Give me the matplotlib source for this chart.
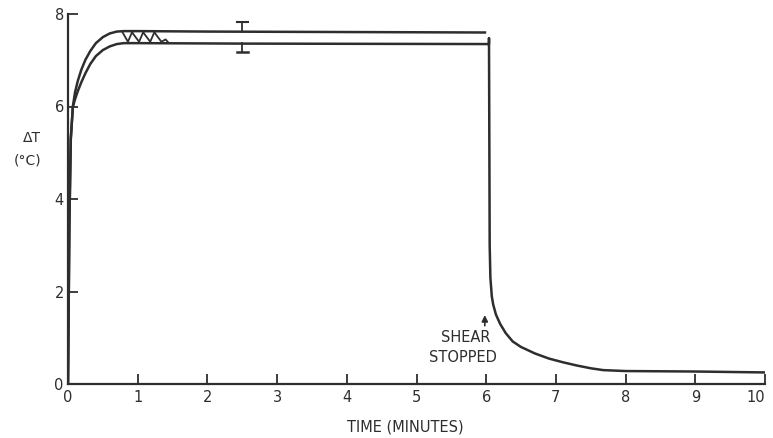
import matplotlib
matplotlib.use("Agg")
import matplotlib.pyplot as plt

# Upper curve (rise and plateau, ends at shear stop)
upper_t = [0, 0.02, 0.04, 0.07, 0.10, 0.14, 0.19, 0.25, 0.32, 0.40, 0.50, 0.60, 0.70, 0.80, 1.0, 2.0, 4.0, 6.0]
upper_v = [0, 3.5, 5.3, 6.0, 6.30, 6.55, 6.79, 7.01, 7.20, 7.37, 7.50, 7.58, 7.62, 7.63, 7.63, 7.62, 7.61, 7.60]

# Lower curve (rise, plateau, drop after shear stopped, decay)
lower_t = [0, 0.02, 0.04, 0.07, 0.10, 0.14, 0.19, 0.25, 0.32, 0.40, 0.50, 0.60, 0.70, 0.80, 1.0, 2.5, 6.04,
           6.04, 6.05, 6.06, 6.08, 6.10, 6.14, 6.20, 6.28, 6.38, 6.50, 6.70, 6.90,
           7.10, 7.30, 7.50, 7.68, 8.0, 9.0, 10.0]
lower_v = [0, 3.5, 5.3, 6.0, 6.15, 6.33, 6.52, 6.72, 6.92, 7.09, 7.22, 7.30, 7.35, 7.37, 7.37, 7.36, 7.35,
           7.48, 3.0, 2.3, 1.9, 1.72, 1.50, 1.30, 1.10, 0.92, 0.80, 0.66, 0.55,
           0.47, 0.40, 0.34, 0.30, 0.28, 0.27, 0.25]

# Oscillation trace between the curves
wave_t = [0.78, 0.86, 0.92, 0.94, 1.02, 1.08, 1.10, 1.18, 1.24, 1.26, 1.34, 1.40, 1.43]
wave_v = [7.61, 7.40, 7.61, 7.56, 7.40, 7.61, 7.56, 7.40, 7.61, 7.56, 7.40, 7.45, 7.40]

# Error bars at t = 2.5
err_t = 2.5
err_upper = (7.63, 7.82)
err_lower = (7.37, 7.18)

x_ticks = [0, 1, 2, 3, 4, 5, 6, 7, 8, 9, 10]
x_labels = ["0", "1", "2", "3", "4", "5", "6", "7", "8", "9", "10"]
y_ticks = [0, 2, 4, 6, 8]
y_labels = ["0", "2", "4", "6", "8"]

ink = "#2e2e2e"
plt.rcParams['font.family'] = ['DejaVu Sans']

fig = plt.figure(figsize=(7.73, 4.38), dpi=100)
ax = fig.add_axes([68/773, (438-384)/438, (765-68)/773, (384-14)/438])

ax.plot(upper_t, upper_v, color=ink, lw=1.8, solid_capstyle='butt')
ax.plot(lower_t, lower_v, color=ink, lw=1.8)
ax.plot(wave_t, wave_v, color=ink, lw=1.3)

ax.plot([err_t, err_t], err_upper, color=ink, lw=1.3)
ax.plot([err_t - 0.08, err_t + 0.08], [err_upper[1]] * 2, color=ink, lw=1.5)
ax.plot([err_t, err_t], err_lower, color=ink, lw=1.3)
ax.plot([err_t - 0.08, err_t + 0.08], [err_lower[1]] * 2, color=ink, lw=1.8)

ax.set_xlim(0, 10)
ax.set_ylim(0, 8)
for s in ['top', 'right']:
    ax.spines[s].set_visible(False)
for s in ['left', 'bottom']:
    ax.spines[s].set_color(ink)
    ax.spines[s].set_linewidth(1.6)

ax.set_xticks(x_ticks)
ax.set_xticklabels(x_labels)
ax.set_yticks(y_ticks)
ax.set_yticklabels(y_labels)
ax.tick_params(axis='both', direction='in', length=7, width=1.3, color=ink,
               labelcolor=ink, labelsize=10.5)
ax.tick_params(axis='x', pad=4)
ax.tick_params(axis='y', pad=3)
ax.get_xticklabels()[-1].set_horizontalalignment('right')
ax.get_xticklabels()[-1].set_x(10.0)

fig.text(405/773, 1 - 427/438, "TIME (MINUTES)", ha='center', va='center',
         fontsize=10.5, color=ink)
fig.text(32/773, 1 - 138/438, "ΔT", ha='center', va='center', fontsize=10, color=ink)
fig.text(28/773, 1 - 161/438, "(°C)", ha='center', va='center', fontsize=10, color=ink)

ax.annotate("", xy=(5.98, 1.55), xytext=(5.98, 1.2),
            arrowprops=dict(arrowstyle='-|>', color=ink, lw=1.2, mutation_scale=9))
ax.text(5.7, 1.0, "SHEAR", ha='center', va='center', fontsize=10.5, color=ink)
ax.text(5.67, 0.58, "STOPPED", ha='center', va='center', fontsize=10.5, color=ink)

fig.savefig("out.png", dpi=100, facecolor='white')
